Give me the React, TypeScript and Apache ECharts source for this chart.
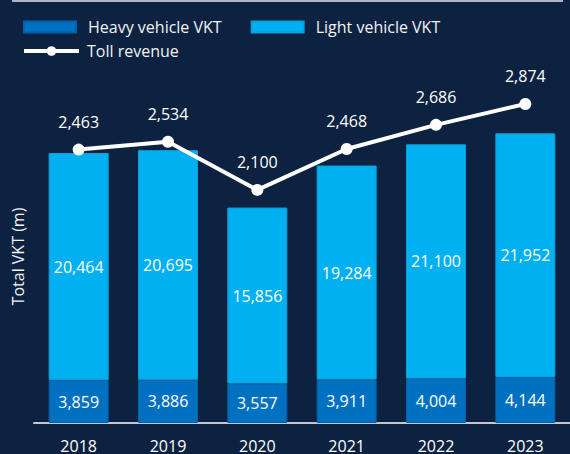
import React, { useEffect, useRef } from "react";
import * as echarts from "echarts";

const years = ["2018", "2019", "2020", "2021", "2022", "2023"];
const heavyVKT = [3859, 3886, 3557, 3911, 4004, 4144];
const lightVKT = [20464, 20695, 15856, 19284, 21100, 21952];
const tollRevenue = [2463, 2534, 2100, 2468, 2686, 2874];

const FONT = "'Open Sans', sans-serif";
const BG = "#0c2240";
const HEAVY = "#0070c0";
const LIGHT = "#00b0f0";
const fmt = (p: any) => Number(p.value).toLocaleString("en-US");

export default function App() {
  const ref = useRef<HTMLDivElement>(null);
  useEffect(() => {
    if (!ref.current) return;
    const chart = echarts.init(ref.current, null, { renderer: "svg" });
    chart.setOption({
      animation: false,
      backgroundColor: BG,
      textStyle: { fontFamily: FONT },
      graphic: [
        {
          type: "line",
          shape: { x1: 12, y1: 1, x2: 563, y2: 1 },
          style: { stroke: "#aeb6c2", lineWidth: 2 },
        },
      ],
      legend: [
        {
          data: ["Heavy vehicle VKT", "Light vehicle VKT"],
          left: 18,
          top: 14,
          itemWidth: 52,
          itemHeight: 11,
          itemGap: 29,
          icon: "rect",
          textStyle: { color: "#f2f2f2", fontSize: 16, fontFamily: FONT, padding: [0, 0, 0, 7] },
        },
        {
          data: ["Toll revenue"],
          left: 17,
          top: 38,
          itemWidth: 55,
          itemHeight: 12,
          lineStyle: { width: 4, color: "#ffffff" },
          itemStyle: { color: "#ffffff" },
          textStyle: { color: "#f2f2f2", fontSize: 16, fontFamily: FONT, padding: [0, 0, 0, 3] },
        },
      ],
      grid: { left: 34, top: 90, width: 540, height: 333, containLabel: false },
      xAxis: {
        type: "category",
        data: years,
        axisLine: { show: true, lineStyle: { color: "#c4c8ce", width: 2 } },
        axisTick: { show: false },
        axisLabel: { color: "#ffffff", fontSize: 16, fontFamily: FONT, margin: 15 },
      },
      yAxis: [
        {
          type: "value",
          min: 0,
          max: 30000,
          name: "Total VKT (m)",
          nameLocation: "middle",
          nameGap: 8,
          nameTextStyle: { color: "#f2f2f2", fontSize: 16, fontFamily: FONT },
          axisLine: { show: false },
          axisTick: { show: false },
          axisLabel: { show: false },
          splitLine: { show: false },
        },
        {
          type: "value",
          min: 0,
          max: 3000,
          show: false,
          splitLine: { show: false },
        },
      ],
      series: [
        {
          name: "Heavy vehicle VKT",
          type: "bar",
          stack: "vkt",
          barWidth: 60,
          data: heavyVKT,
          itemStyle: { color: HEAVY, borderColor: "#0062aa", borderWidth: 1 },
          label: { show: true, position: "inside", color: "#ffffff", fontSize: 16, fontFamily: FONT, formatter: fmt },
        },
        {
          name: "Light vehicle VKT",
          type: "bar",
          stack: "vkt",
          barWidth: 60,
          data: lightVKT,
          itemStyle: { color: LIGHT, borderColor: "#0aa0dc", borderWidth: 1 },
          label: { show: true, position: "inside", color: "#ffffff", fontSize: 16, fontFamily: FONT, formatter: fmt },
        },
        {
          name: "Toll revenue",
          type: "line",
          yAxisIndex: 1,
          data: tollRevenue,
          z: 5,
          symbol: "circle",
          symbolSize: 12,
          lineStyle: { color: "#ffffff", width: 4 },
          itemStyle: { color: "#ffffff" },
          label: { show: true, position: "top", distance: 14, color: "#ffffff", fontSize: 16, fontFamily: FONT, formatter: fmt },
        },
      ],
    });
    return () => chart.dispose();
  }, []);
  return (
    <div
      ref={ref}
      style={{ position: "fixed", left: 0, top: 0, width: 570, height: 454, background: BG }}
    />
  );
}
